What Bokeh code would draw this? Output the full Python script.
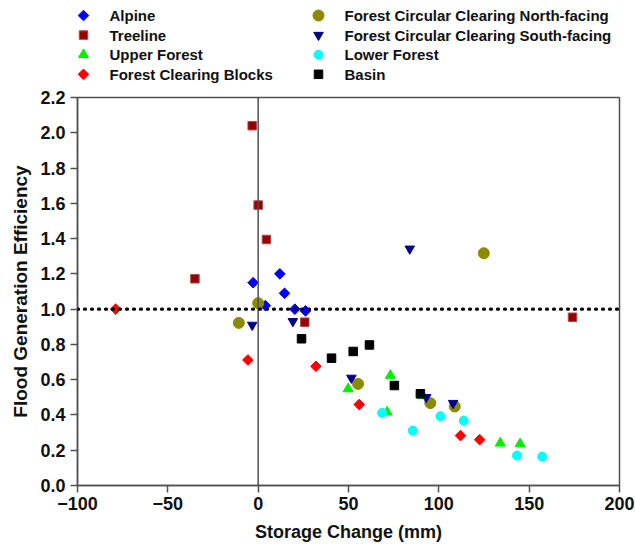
import math
from bokeh.plotting import figure
from bokeh.layouts import column
from bokeh.core.properties import value
from bokeh.models import Span, FixedTicker, Range1d, CustomJSTickFormatter
from bokeh.embed import file_html
from bokeh.resources import INLINE

# ---- data (storage change mm, flood generation efficiency) ----
alpine_x = [-2.8, 4.0, 12.0, 14.6, 20.3, 26.2]
alpine_y = [1.15, 1.02, 1.20, 1.09, 1.00, 0.99]

treeline_x = [-3.3, 0.0, 4.6, -35.0, 25.8, 174.0]
treeline_y = [2.04, 1.59, 1.395, 1.172, 0.926, 0.954]

upper_x = [73.2, 49.8, 71.4, 91.0, 134.0, 145.0]
upper_y = [0.624, 0.548, 0.416, 0.51, 0.24, 0.236]

blocks_x = [-78.9, -5.7, 32.0, 55.9, 112.0, 122.6]
blocks_y = [1.00, 0.712, 0.676, 0.459, 0.283, 0.26]

north_x = [-10.7, 0.0, 55.3, 95.3, 108.8, 124.9]
north_y = [0.922, 1.034, 0.576, 0.467, 0.448, 1.317]

south_x = [-3.3, 19.2, 51.6, 93.0, 107.9, 83.9]
south_y = [0.91, 0.931, 0.61, 0.50, 0.467, 1.342]

lower_x = [68.6, 85.6, 100.9, 113.8, 143.3, 157.2]
lower_y = [0.412, 0.312, 0.393, 0.368, 0.17, 0.164]

basin_x = [24.0, 40.6, 52.6, 61.6, 75.4, 89.8]
basin_y = [0.832, 0.722, 0.76, 0.797, 0.567, 0.52]

series_names = ["Alpine", "Treeline", "Upper Forest", "Forest Clearing Blocks",
                "Forest Circular Clearing North-facing",
                "Forest Circular Clearing South-facing", "Lower Forest", "Basin"]

x_ticks = [-100, -50, 0, 50, 100, 150, 200]
y_ticks = [0.0, 0.2, 0.4, 0.6, 0.8, 1.0, 1.2, 1.4, 1.6, 1.8, 2.0, 2.2]

FONT = "Liberation Sans"
AXC = "#505050"
ROT = math.pi / 4

styles = [
    dict(marker="square", angle=ROT, size=7.5, fill_color="#0000FF", line_color="#0000FF"),
    dict(marker="square", size=8.5, fill_color="#990000", line_color="#B04848"),
    dict(marker="triangle", size=10, fill_color="#00EE00", line_color="#00EE00"),
    dict(marker="square", angle=ROT, size=7.5, fill_color="#FF0000", line_color="#FF0000"),
    dict(marker="circle", size=11, fill_color="#8B8B00", line_color="#8B8B00"),
    dict(marker="inverted_triangle", size=9.5, fill_color="#00008B", line_color="#00008B"),
    dict(marker="circle", size=9, fill_color="#00FFFF", line_color="#00FFFF"),
    dict(marker="square", size=8.5, fill_color="black", line_color="black"),
]
xs = [alpine_x, treeline_x, upper_x, blocks_x, north_x, south_x, lower_x, basin_x]
ys = [alpine_y, treeline_y, upper_y, blocks_y, north_y, south_y, lower_y, basin_y]

# ---------------- main plot ----------------
p = figure(width=635, height=458, output_backend="svg", toolbar_location=None,
           x_range=Range1d(-100, 200), y_range=Range1d(0, 2.2),
           min_border_left=77, min_border_right=16, min_border_top=11,
           min_border_bottom=59)
p.grid.visible = False
p.outline_line_color = AXC
p.outline_line_width = 1.5

for ax in (p.xaxis[0], p.yaxis[0]):
    ax.axis_line_color = AXC
    ax.axis_line_width = 1.5
    ax.major_tick_line_color = AXC
    ax.major_tick_line_width = 1.5
    ax.major_tick_in = 0
    ax.major_tick_out = 7
    ax.minor_tick_line_color = None
    ax.major_label_text_font = FONT
    ax.major_label_text_font_style = "bold"
    ax.major_label_text_font_size = "18px"
    ax.major_label_text_color = "#111111"
    ax.axis_label_text_font = FONT
    ax.axis_label_text_font_style = "bold"
    ax.axis_label_text_color = "#111111"

p.xaxis.axis_label_text_font_size = "18px"
p.yaxis.axis_label_text_font_size = "19px"
p.xaxis.ticker = FixedTicker(ticks=x_ticks)
p.yaxis.ticker = FixedTicker(ticks=y_ticks)
p.yaxis.formatter = CustomJSTickFormatter(code="return tick.toFixed(1);")
p.xaxis.axis_label = "Storage Change (mm)"
p.yaxis.axis_label = "Flood Generation Efficiency"
p.xaxis.major_label_standoff = 4
p.yaxis.major_label_standoff = 5
p.xaxis.axis_label_standoff = 9
p.yaxis.axis_label_standoff = 6

p.add_layout(Span(location=0, dimension="height", line_color=AXC, line_width=1.5))
p.add_layout(Span(location=1.0, dimension="width", line_color="black", line_width=3.2,
                  line_dash="1 6", line_cap="round"))

for x, y, st in zip(xs, ys, styles):
    p.scatter(x, y, **st)

# ---------------- legend strip (pixel coordinates, frame aligned to main plot) ----------------
lf = figure(width=635, height=86, output_backend="svg", toolbar_location=None,
            x_range=Range1d(77, 619), y_range=Range1d(86, 0),
            min_border=0, min_border_left=0, min_border_right=0,
            min_border_top=0, min_border_bottom=0)
lf.axis.visible = False
lf.grid.visible = False
lf.outline_line_color = None

col_x = [83, 318]
label_gap = 26
row_y0, row_dy = 15, 19.6

for i, (name, st) in enumerate(zip(series_names, styles)):
    cx = col_x[i // 4]
    cy = row_y0 + row_dy * (i % 4)
    lf.scatter(x=[cx], y=[cy], **st)
    lf.text(x=[cx + label_gap], y=[cy], text=[name], text_font=value(FONT),
            text_font_style="bold", text_font_size="15px", text_color="#111111",
            text_baseline="middle", text_align="left")

layout = column(lf, p, spacing=0)
open("out.html", "w").write(file_html(layout, INLINE))
